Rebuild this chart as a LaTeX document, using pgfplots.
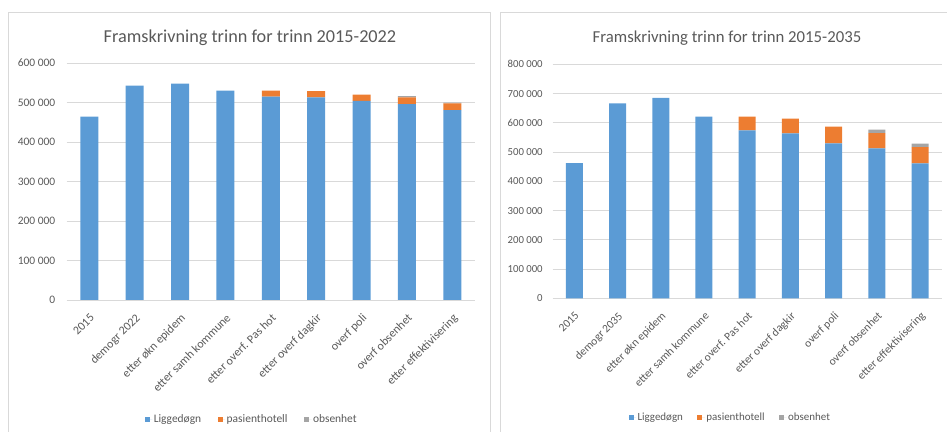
\documentclass[border=0pt]{standalone}
\usepackage{pgfplots}
\usepackage{pgfplotstable}
\pgfplotsset{compat=1.18}
\usepackage{fontspec}
\setmainfont{Carlito}

\definecolor{cblue}{HTML}{5B9BD5}
\definecolor{corange}{HTML}{ED7D31}
\definecolor{cgray}{HTML}{A5A5A5}
\definecolor{gridc}{HTML}{D9D9D9}
\definecolor{txt}{HTML}{595959}

% x lig pas obs
\pgfplotstableread{
x lig pas obs
0 464000 0 0
1 543000 0 0
2 548000 0 0
3 530000 0 0
4 515000 15000 0
5 513000 15500 0
6 504000 16000 0
7 496000 17000 3000
8 480500 17000 2500
}\trinnA

\pgfplotstableread{
x lig pas obs
0 462300 0 0
1 666700 0 0
2 684900 0 0
3 621000 0 0
4 574200 46800 0
5 563900 50300 0
6 529700 57100 0
7 512600 52400 11500
8 461200 55900 11400
}\trinnB

\pgfplotsset{
  sq/.style={legend image code/.code={\fill[##1] (0bp,-2.5bp) rectangle (5bp,2.5bp); \path (0bp,0bp) -- (7.5bp,0bp);}},
  trinn/.style={
    scale only axis,
    ybar stacked,
    xmin=-0.5, xmax=8.5,
    ymin=0,
    xtick={0,...,8},
    major tick length=0pt,
    ymajorgrids=true,
    grid style={gridc, line width=0.9bp},
    axis line style={draw=none},
    scaled y ticks=false,
    tick label style={text=txt},
    /pgf/number format/assume math mode=true,
    yticklabel style={/pgf/number format/fixed, /pgf/number format/precision=0,
      /pgf/number format/1000 sep={\hspace{0.22em}}},
    xticklabel style={rotate=45, anchor=north east},
    legend columns=3,
    legend style={draw=none, fill=none, text=txt, anchor=center,
      nodes={inner sep=1.5bp},
      /tikz/every even column/.append style={column sep=15bp}},
  },
}

\begin{document}
\begin{tikzpicture}
\useasboundingbox (0bp,0bp) rectangle (947bp,432bp);
\draw[gridc, line width=0.9bp] (8bp,-5bp) -- (8bp,420bp) -- (490bp,420bp) -- (490bp,-5bp);
\draw[gridc, line width=0.9bp] (500bp,-5bp) -- (500bp,420bp) -- (960bp,420bp);

\node[anchor=base, text=txt, font=\fontsize{18.3}{20}\selectfont] at (250bp,389.5bp) {Framskrivning trinn for trinn 2015-2022};
\node[anchor=base, text=txt, font=\fontsize{16.8}{19}\selectfont] at (727bp,389.5bp) {Framskrivning trinn for trinn 2015-2035};

\begin{axis}[trinn,
  at={(66.7bp,132bp)}, anchor=south west,
  width=408.3bp, height=237bp,
  ymax=600000, ytick={0,100000,...,600000},
  bar width=18bp,
  yticklabel shift=8bp,
  xticklabel shift=8bp,
  yticklabel style={font=\fontsize{11.5}{13}\selectfont},
  xticklabel style={font=\fontsize{12}{14}\selectfont},
  xticklabels={2015, demogr 2022, etter økn epidem, etter samh kommune, {etter overf. Pas hot}, etter overf dagkir, overf poli, overf obsenhet, etter effektivisering},
  legend style={at={(0.4526,-0.503)}, font=\fontsize{11.5}{13}\selectfont},
]
\addplot[fill=cblue, draw=none, sq] table[x=x, y=lig] {\trinnA};
\addplot[fill=corange, draw=none, sq] table[x=x, y=pas] {\trinnA};
\addplot[fill=cgray, draw=none, sq] table[x=x, y=obs] {\trinnA};
\legend{Liggedøgn, pasienthotell, obsenhet}
\end{axis}

\begin{axis}[trinn,
  at={(552.7bp,133.7bp)}, anchor=south west,
  width=389bp, height=234bp,
  ymax=800000, ytick={0,100000,...,800000},
  bar width=17bp,
  yticklabel shift=6.5bp,
  xticklabel shift=8bp,
  yticklabel style={font=\fontsize{10.8}{12}\selectfont},
  xticklabel style={font=\fontsize{11.5}{13}\selectfont},
  xticklabels={2015, demogr 2035, etter økn epidem, etter samh kommune, {etter overf. Pas hot}, etter overf dagkir, overf poli, overf obsenhet, etter effektivisering},
  legend style={at={(0.4558,-0.51)}, font=\fontsize{11}{13}\selectfont,
    /tikz/every even column/.append style={column sep=13bp}},
]
\addplot[fill=cblue, draw=none, sq] table[x=x, y=lig] {\trinnB};
\addplot[fill=corange, draw=none, sq] table[x=x, y=pas] {\trinnB};
\addplot[fill=cgray, draw=none, sq] table[x=x, y=obs] {\trinnB};
\legend{Liggedøgn, pasienthotell, obsenhet}
\end{axis}
\end{tikzpicture}
\end{document}
